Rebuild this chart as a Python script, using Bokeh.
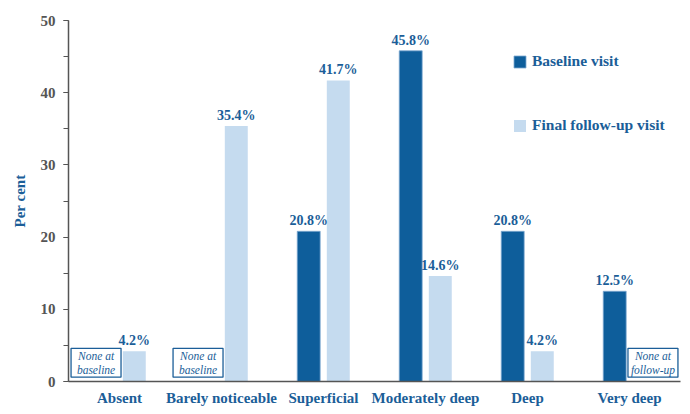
from bokeh.plotting import figure
from bokeh.models import ColumnDataSource, FactorRange, Legend, LegendItem, SingleIntervalTicker
from bokeh.transform import dodge
from bokeh.core.properties import value
from bokeh.embed import file_html
from bokeh.resources import INLINE

categories = ["Absent", "Barely noticeable", "Superficial", "Moderately deep", "Deep", "Very deep"]
baseline = [0.0, 0.0, 20.8, 45.8, 20.8, 12.5]
final = [4.2, 35.4, 41.7, 14.6, 4.2, 0.0]
series_names = ["Baseline visit", "Final follow-up visit"]

DARK = "#0E5E9B"
LIGHT = "#C5DBEF"
TXT = "#1B5E98"
GRAY = "#555555"
FONT = "Liberation Serif"

p = figure(x_range=FactorRange(factors=categories), y_range=(0, 50),
           width=690, height=414, output_backend="svg", toolbar_location=None,
           min_border_left=68, min_border_right=10, min_border_top=20, min_border_bottom=33)
p.outline_line_color = None
p.xgrid.grid_line_color = None
p.ygrid.grid_line_color = None

src = ColumnDataSource(dict(cat=categories, base=baseline, fin=final))
off = 0.145
bw = 0.225
r1 = p.vbar(x=dodge("cat", -off, range=p.x_range), top="base", width=bw, source=src,
            fill_color=DARK, line_color="#7FA9D0", line_width=0.8)
r2 = p.vbar(x=dodge("cat", off, range=p.x_range), top="fin", width=bw, source=src,
            fill_color=LIGHT, line_color=None)

# value labels
def lab_src(vals):
    c = [k for k, v in zip(categories, vals) if v > 0]
    y = [v for v in vals if v > 0]
    t = ["%.1f%%" % v for v in vals if v > 0]
    return ColumnDataSource(dict(cat=c, y=y, t=t))

for vals, o in ((baseline, -off), (final, off)):
    p.text(x=dodge("cat", o, range=p.x_range), y="y", text="t", source=lab_src(vals),
           text_font=value(FONT), text_font_style="bold", text_font_size="14px",
           text_color=TXT, text_align="center", text_baseline="bottom", y_offset=-3)

# "None at ..." notes
def note_src(vals, txt):
    c = [k for k, v in zip(categories, vals) if v == 0]
    return ColumnDataSource(dict(cat=c, t=[txt] * len(c), y=[2.6] * len(c)))

for vals, o, txt in ((baseline, -0.23, "None at\nbaseline"), (final, 0.23, "None at\nfollow-up")):
    s = note_src(vals, txt)
    p.rect(x=dodge("cat", o, range=p.x_range), y="y", width=0.49, height=4.0, source=s,
           fill_color="white", line_color=TXT, line_width=1.3)
    p.text(x=dodge("cat", o, range=p.x_range), y="y", text="t", source=s,
           text_font=value(FONT), text_font_style="italic", text_font_size="11.5px",
           text_color=TXT, text_align="center", text_baseline="middle", text_line_height=1.2)

# axes
p.yaxis.ticker = SingleIntervalTicker(interval=10, num_minor_ticks=2)
p.yaxis.axis_label = "Per cent"
p.yaxis.axis_label_text_font = FONT
p.yaxis.axis_label_text_font_style = "bold"
p.yaxis.axis_label_text_font_size = "15px"
p.yaxis.axis_label_text_color = TXT
p.yaxis.axis_label_standoff = 10
p.yaxis.major_label_text_font = FONT
p.yaxis.major_label_text_font_style = "bold"
p.yaxis.major_label_text_font_size = "15px"
p.yaxis.major_label_text_color = GRAY
p.yaxis.major_label_standoff = 8
p.yaxis.axis_line_color = GRAY
p.yaxis.axis_line_width = 1.5
p.yaxis.major_tick_line_color = GRAY
p.yaxis.minor_tick_line_color = GRAY
p.yaxis.major_tick_in = 0
p.yaxis.minor_tick_in = 0
p.yaxis.major_tick_out = 5
p.yaxis.minor_tick_out = 5

p.xaxis.major_label_text_font = FONT
p.xaxis.major_label_text_font_style = "bold"
p.xaxis.major_label_text_font_size = "15px"
p.xaxis.major_label_text_color = TXT
p.xaxis.major_label_standoff = 8
p.xaxis.axis_line_color = GRAY
p.xaxis.axis_line_width = 1.5
p.xaxis.major_tick_line_color = None
p.xaxis.minor_tick_line_color = None
p.xaxis.major_tick_out = 0
p.xaxis.major_tick_in = 0
p.x_range.range_padding = 0

legend = Legend(items=[LegendItem(label=series_names[0], renderers=[r1]),
                       LegendItem(label=series_names[1], renderers=[r2])],
                location=(444, 247), orientation="vertical",
                glyph_width=15, glyph_height=15, spacing=46, padding=0, margin=0,
                label_standoff=5, label_text_font=FONT, label_text_font_style="bold",
                label_text_font_size="15.5px", label_text_color=TXT,
                border_line_color=None, background_fill_alpha=0, label_height=15)
p.add_layout(legend)

open("out.html", "w").write(file_html(p, INLINE))
